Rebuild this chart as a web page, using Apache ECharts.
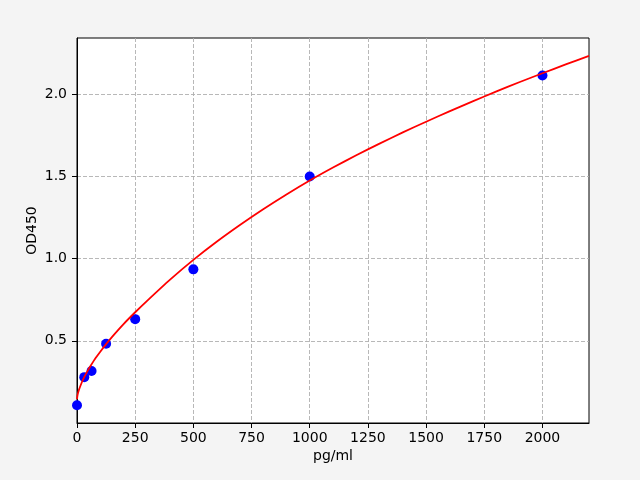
<!DOCTYPE html>
<html>
<head>
<meta charset="utf-8">
<script src="https://cdn.jsdelivr.net/npm/echarts@6/dist/echarts.min.js"></script>
<style>
html,body{margin:0;padding:0;background:#f4f4f4;}
#c{width:640px;height:480px;}
</style>
</head>
<body>
<div id="c"></div>
<script>
// Standard points (concentration pg/ml, OD450)
var pointX = [0, 31.25, 62.5, 125, 250, 500, 1000, 2000];
var pointY = [0.108, 0.279, 0.316, 0.482, 0.632, 0.935, 1.50, 2.115];

// Fitted curve
var curveX = [0, 2, 5, 10, 20, 30, 45, 60, 80, 100, 125, 150, 200, 250, 300, 400, 500, 600, 700, 800, 900, 1000, 1100, 1200, 1300, 1400, 1500, 1600, 1700, 1800, 1900, 2000, 2100, 2200];
var curveY = [0.145, 0.167, 0.185, 0.208, 0.245, 0.276, 0.316, 0.351, 0.395, 0.434, 0.48, 0.523, 0.602, 0.674, 0.742, 0.8725, 0.9925, 1.1025, 1.2045, 1.3005, 1.3905, 1.4755, 1.5545, 1.6295, 1.7005, 1.7685, 1.8335, 1.8965, 1.9575, 2.0165, 2.0735, 2.1285, 2.1825, 2.2345];

// Tick labels
var xTicks = [0, 250, 500, 750, 1000, 1250, 1500, 1750, 2000];
var yTicks = [0.5, 1.0, 1.5, 2.0];

var xLabel = 'pg/ml';
var yLabel = 'OD450';

var pts = pointX.map(function (x, i) { return [x, pointY[i]]; });
var crv = curveX.map(function (x, i) { return [x, curveY[i]]; });

var font = 'DejaVu Sans';
var chart = echarts.init(document.getElementById('c'), null, {renderer: 'canvas'});
chart.setOption({
  backgroundColor: '#f4f4f4',
  animation: false,
  grid: {left: 77, right: 51, top: 38, bottom: 57, show: true, backgroundColor: '#ffffff', borderColor: '#000000', borderWidth: 1},
  xAxis: {
    type: 'value', min: 0, max: 2200, interval: 250,
    name: xLabel, nameLocation: 'middle', nameGap: 26, nameMoveOverlap: false,
    nameTextStyle: {fontFamily: font, fontSize: 14, color: '#000'},
    axisLine: {show: true, onZero: false, lineStyle: {color: '#000', width: 1}},
    axisTick: {show: true, inside: false, length: 5, lineStyle: {color: '#000', width: 1}, customValues: xTicks},
    axisLabel: {fontFamily: font, fontSize: 14, color: '#000', margin: 8, customValues: xTicks,
      formatter: function (v) { return xTicks.indexOf(v) >= 0 ? String(v) : ''; }},
    splitLine: {show: true, lineStyle: {color: '#b0b0b0', width: 0.9, type: [4, 2]}}
  },
  yAxis: {
    type: 'value', min: 0, max: 2.343, interval: 0.5,
    name: yLabel, nameLocation: 'middle', nameGap: 38, nameMoveOverlap: false,
    nameTextStyle: {fontFamily: font, fontSize: 14, color: '#000'},
    axisLine: {show: true, onZero: false, lineStyle: {color: '#000', width: 1}},
    axisTick: {show: true, inside: false, length: 5, lineStyle: {color: '#000', width: 1}, customValues: yTicks},
    axisLabel: {fontFamily: font, fontSize: 14, color: '#000', margin: 10, customValues: yTicks,
      formatter: function (v) { return Math.abs(v * 2 - Math.round(v * 2)) < 1e-6 && v > 0 ? v.toFixed(1) : ''; }},
    splitLine: {show: true, lineStyle: {color: '#b0b0b0', width: 0.9, type: [4, 2]}}
  },
  series: [
    {type: 'scatter', data: pts, symbol: 'circle', symbolSize: 10, itemStyle: {color: '#0000ff', opacity: 1}, z: 2},
    {type: 'line', data: crv, showSymbol: false, smooth: 0.2, lineStyle: {color: '#ff0000', width: 1.8}, z: 3}
  ]
});
</script>
</body>
</html>
